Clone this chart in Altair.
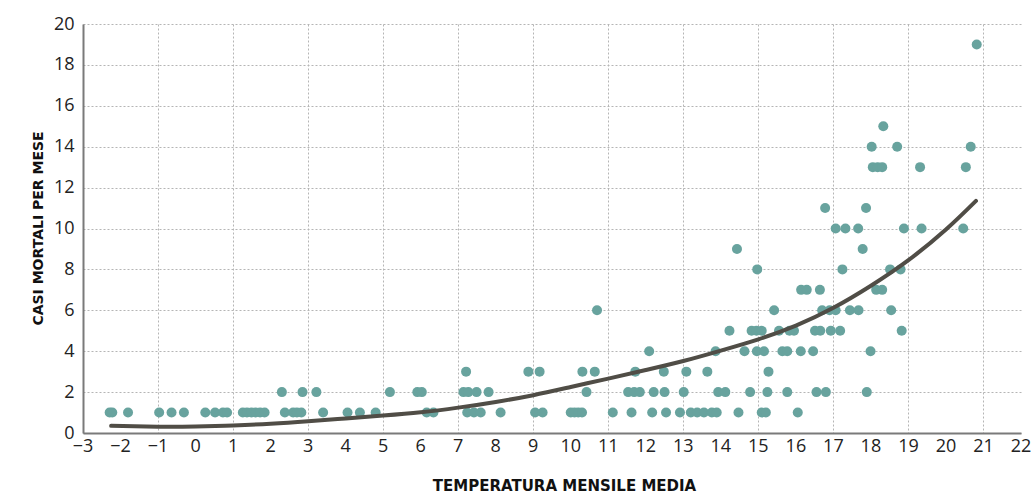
import altair as alt
import pandas as pd

# Scatter data: monthly mean temperature vs deaths per month
temp_1 = [-2.29, -2.22, -1.80, -0.97, -0.64, -0.31, 0.26, 0.52, 0.73, 0.84, 1.26, 1.37, 1.49, 1.60, 1.72,
          1.84, 2.38, 2.60, 2.70, 2.82, 3.40, 4.05, 4.38, 4.80, 6.16, 6.34, 7.24, 7.42, 7.60, 8.13, 9.05,
          9.25, 10.0, 10.1, 10.2, 10.3, 11.12, 11.62, 12.17, 12.54, 12.91, 13.20, 13.37, 13.55, 13.76,
          13.89, 14.47, 15.09, 15.20, 16.05]
temp_2 = [2.30, 2.85, 3.22, 5.18, 5.91, 6.03, 7.14, 7.27, 7.49, 7.81, 10.42, 11.53, 11.69, 11.84, 12.21,
          12.50, 13.01, 13.93, 14.12, 14.78, 15.24, 15.77, 16.55, 16.80, 17.89]
temp_3 = [7.21, 8.87, 9.17, 10.31, 10.64, 11.72, 12.48, 13.08, 13.64, 15.27]
temp_4 = [12.09, 13.86, 14.63, 14.96, 15.15, 15.64, 15.77, 16.13, 16.46, 17.99]
temp_5 = [14.23, 14.82, 14.95, 15.09, 15.55, 15.83, 15.95, 16.51, 16.65, 16.93, 17.18, 18.82]
temp_6 = [10.70, 15.42, 16.70, 16.90, 17.06, 17.44, 17.67, 18.54]
temp_7 = [16.14, 16.29, 16.64, 18.14, 18.30]
temp_8 = [14.97, 17.24, 18.51, 18.79]
temp_9 = [14.43, 17.78]
temp_10 = [17.06, 17.32, 17.66, 18.88, 19.35, 20.46]
temp_11 = [16.78, 17.87]
temp_13 = [18.05, 18.18, 18.30, 19.31, 20.53]
temp_14 = [18.02, 18.70, 20.66]
temp_15 = [18.33]
temp_19 = [20.82]

groups = {1: temp_1, 2: temp_2, 3: temp_3, 4: temp_4, 5: temp_5, 6: temp_6, 7: temp_7, 8: temp_8,
          9: temp_9, 10: temp_10, 11: temp_11, 13: temp_13, 14: temp_14, 15: temp_15, 19: temp_19}

# Fitted curve
curve_x = [-2.25, -1, 0, 1, 2, 3, 4, 5, 6, 7, 8, 9, 10, 11, 12, 13, 14, 15, 16, 17, 18, 19, 20, 20.8]
curve_y = [0.35, 0.31, 0.32, 0.37, 0.45, 0.57, 0.71, 0.85, 1.01, 1.24, 1.52, 1.85, 2.25, 2.66, 3.08,
           3.52, 4.03, 4.58, 5.25, 6.12, 7.2, 8.45, 9.95, 11.35]

x_ticks = list(range(-3, 23))
x_tick_labels = [str(v).replace("-", "\u2212") for v in x_ticks]
y_ticks = list(range(0, 21))

rows = [{"t": t, "d": d} for d, ts in groups.items() for t in ts]
pts = pd.DataFrame(rows)
crv = pd.DataFrame({"t": curve_x, "d": curve_y})
xlab = pd.DataFrame({"t": x_ticks, "lab": x_tick_labels})

LABEL_FONT = "Open Sans"
TITLE_FONT = "DejaVu Sans"
LABEL_SIZE = 18

x_enc = alt.X("t:Q", scale=alt.Scale(domain=[-3, 22], nice=False, zero=False),
              axis=alt.Axis(values=x_ticks, title="TEMPERATURA MENSILE MEDIA", labels=False,
                            titleX=481, titleY=52, titleBaseline="middle",
                            titleAnchor="middle", titleAlign="center", titleFontSize=15))
y_enc = alt.Y("d:Q", scale=alt.Scale(domain=[0, 20], nice=False),
              axis=alt.Axis(values=y_ticks, title="CASI MORTALI PER MESE",
                            labelExpr="datum.value % 2 == 0 ? datum.label : ''",
                            labelOverlap=False, labelPadding=9,
                            labelFontSize=LABEL_SIZE, labelFont=LABEL_FONT,
                            titleX=-45, titleY=204, titleAngle=-90,
                            titleBaseline="middle", titleAlign="center", titleFontSize=14))

points = alt.Chart(pts).mark_circle(size=100, color="#68a39e", opacity=1).encode(x=x_enc, y=y_enc)
line = alt.Chart(crv).mark_line(color="#504d46", strokeWidth=4, interpolate="natural",
                                strokeCap="round").encode(x="t:Q", y="d:Q")
labels = alt.Chart(xlab).mark_text(font=LABEL_FONT, fontSize=LABEL_SIZE, color="#222222",
                                   baseline="middle", align="center").encode(
    x="t:Q", y=alt.value(423), text="lab:N")

chart = alt.layer(points, line, labels).properties(
    width=938, height=409,
    autosize=alt.AutoSizeParams(type="none"),
    padding={"left": 83, "top": 24, "right": 10, "bottom": 62},
    background="white",
).configure_view(stroke=None).configure_axis(
    grid=True, gridDash=[2, 2], gridColor="#b5b5b5", gridWidth=1,
    domainColor="#7a7a7a", domainWidth=2, ticks=False,
    labelColor="#222222", labelFlush=False,
    titleFont=TITLE_FONT, titleFontWeight="bold", titleColor="#111111",
)

chart.save("out.html", embed_options={"renderer": "svg", "actions": False})
